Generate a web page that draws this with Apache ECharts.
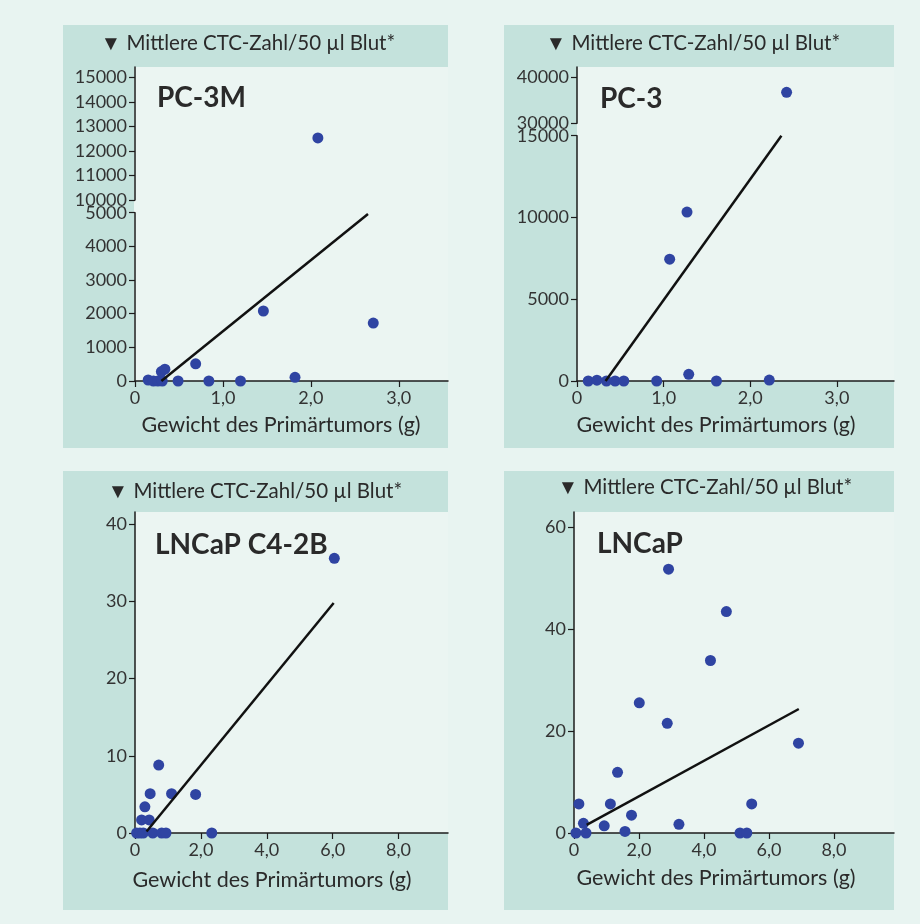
<!DOCTYPE html>
<html>
<head>
<meta charset="utf-8">
<script src="https://cdn.jsdelivr.net/npm/echarts@6.0.0/dist/echarts.min.js"></script>
<style>
  html, body { margin: 0; padding: 0; background: #e8f4f1; }
  #main { width: 920px; height: 924px; }
</style>
</head>
<body>
<div id="main"></div>
<script>
// Daten
var yHeader = '\u25BC Mittlere CTC-Zahl/50 \u00B5l Blut*';
var xName = 'Gewicht des Prim\u00E4rtumors (g)';

// PC-3M
var pc3mWeight = [0.15, 0.21, 0.26, 0.31, 0.30, 0.34, 0.49, 0.69, 0.84, 1.20, 1.46, 1.82, 2.08, 2.71];
var pc3mCtc    = [30, 0, 0, 0, 280, 350, 0, 510, 0, 0, 2080, 110, 12530, 1720];
var pc3mTrendX = [0.30, 2.65];
var pc3mTrendY = [0, 4960];
var pc3mLowTicks  = [0, 1000, 2000, 3000, 4000, 5000];
var pc3mHighTicks = [10000, 11000, 12000, 13000, 14000, 15000];

// PC-3
var pc3Weight = [0.13, 0.23, 0.34, 0.44, 0.54, 0.92, 1.07, 1.27, 1.29, 1.61, 2.22, 2.42];
var pc3Ctc    = [0, 50, 0, 0, 0, 0, 7450, 10330, 410, 0, 60, 36740];
var pc3TrendX = [0.33, 2.36];
var pc3TrendY = [0, 15000];
var pc3LowTicks  = [0, 5000, 10000, 15000];
var pc3HighTicks = [30000, 40000];

// LNCaP C4-2B
var c42bWeight = [0.05, 0.15, 0.25, 0.20, 0.30, 0.46, 0.43, 0.54, 0.72, 0.81, 0.94, 1.11, 1.84, 2.33, 6.05];
var c42bCtc    = [0, 0, 0, 1.7, 3.4, 5.1, 1.7, 0, 8.8, 0, 0, 5.1, 5.0, 0, 35.6];
var c42bTrendX = [0.35, 6.03];
var c42bTrendY = [0.2, 29.8];
var c42bTicks  = [0, 10, 20, 30, 40];

// LNCaP
var lncapWeight = [0.06, 0.15, 0.29, 0.37, 0.93, 1.12, 1.34, 1.57, 1.77, 2.01, 2.87, 2.91, 3.23, 4.20, 4.69, 5.11, 5.32, 5.47, 6.91];
var lncapCtc    = [0, 5.7, 1.9, 0, 1.4, 5.7, 11.9, 0.3, 3.5, 25.5, 21.5, 51.7, 1.7, 33.8, 43.4, 0, 0, 5.7, 17.6];
var lncapTrendX = [0.39, 6.92];
var lncapTrendY = [1.6, 24.3];
var lncapTicks  = [0, 20, 40, 60];

var smallXTicks = [0, 1, 2, 3];
var largeXTicks = [0, 2, 4, 6, 8];

var font = 'Lato';
var dotColor = '#2f44a2';
var axisColor = '#1c1c1c';
var panelColor = '#c4e2dc';
var plotColor = '#ebf5f2';

function pairs(xs, ys, test) {
    var out = [];
    for (var i = 0; i < xs.length; i++) {
        if (!test || test(ys[i])) out.push([xs[i], ys[i]]);
    }
    return out;
}

function commaFmt(v) {
    return v === 0 ? '0' : v.toFixed(1).replace('.', ',');
}

var grids = [
    { left: 135, top: 212.7, width: 313, height: 168.3 },  // PC-3M unten
    { left: 135, top: 67, width: 313, height: 133 },       // PC-3M oben
    { left: 577, top: 135.7, width: 317, height: 245.3 },  // PC-3 unten
    { left: 577, top: 67, width: 317, height: 56.3 },      // PC-3 oben
    { left: 135, top: 512, width: 313, height: 321 },      // LNCaP C4-2B
    { left: 574, top: 512, width: 320, height: 321 }       // LNCaP
].map(function (g) {
    g.outerBoundsMode = 'none';
    g.containLabel = false;
    return g;
});

function xAxis(gi, max, ticks, show) {
    return {
        type: 'value', gridIndex: gi, min: 0, max: max, show: show,
        axisLine: { show: true, onZero: false, lineStyle: { color: axisColor, width: 1.5 } },
        axisTick: { show: true, length: 6, customValues: ticks, lineStyle: { color: axisColor, width: 1.2 } },
        axisLabel: {
            fontFamily: font, fontSize: 18, color: '#333', margin: 8,
            customValues: ticks, formatter: commaFmt
        },
        splitLine: { show: false }
    };
}

function yAxis(gi, min, max, ticks) {
    return {
        type: 'value', gridIndex: gi, min: min, max: max,
        axisLine: { show: true, onZero: false, lineStyle: { color: axisColor, width: 1.5 } },
        axisTick: { show: true, length: 6, customValues: ticks, lineStyle: { color: axisColor, width: 1.2 } },
        axisLabel: {
            fontFamily: font, fontSize: 18, color: '#333', margin: 8,
            customValues: ticks, formatter: function (v) { return String(v); }
        },
        splitLine: { show: false }
    };
}

function dots(gi, data) {
    return {
        type: 'scatter', xAxisIndex: gi, yAxisIndex: gi, data: data,
        symbolSize: 11, clip: false, itemStyle: { color: dotColor, opacity: 1 }
    };
}

function trend(gi, xs, ys) {
    return {
        type: 'line', xAxisIndex: gi, yAxisIndex: gi, data: pairs(xs, ys),
        showSymbol: false, symbol: 'none', lineStyle: { color: '#111', width: 2.5 }
    };
}

function txt(x, y, text, size) {
    return {
        type: 'text', x: x, y: y, z: 10,
        style: {
            text: text, fontFamily: font, fontSize: size,
            fill: '#2a2a2a', textAlign: 'center', textVerticalAlign: 'middle'
        }
    };
}

function titleTxt(x, y, text) {
    return {
        type: 'text', x: x, y: y, z: 10,
        style: {
            text: text, fontFamily: font, fontSize: 28, fontWeight: 'bold',
            fill: '#2a2a2a', textAlign: 'left', textVerticalAlign: 'middle'
        }
    };
}

function rect(x1, y1, x2, y2, color) {
    return { type: 'rect', z: -10, silent: true, shape: { x: x1, y: y1, width: x2 - x1, height: y2 - y1 }, style: { fill: color } };
}

var myChart = echarts.init(document.getElementById('main'), null, { renderer: 'canvas' });

var option = {
    backgroundColor: '#e8f4f1',
    animation: false,
    graphic: [
        rect(63, 25, 448, 448, panelColor),
        rect(504, 25, 894, 448, panelColor),
        rect(63, 471, 448, 910, panelColor),
        rect(504, 471, 894, 910, panelColor),
        rect(134, 67, 448, 381, plotColor),
        rect(577, 67, 894, 381, plotColor),
        rect(135, 512, 448, 833, plotColor),
        rect(574, 512, 894, 833, plotColor),
        txt(248, 43, yHeader, 20.5),
        txt(693, 43, yHeader, 20.5),
        txt(255, 491, yHeader, 20.5),
        txt(705, 487, yHeader, 20.5),
        titleTxt(157, 98, 'PC-3M'),
        titleTxt(600, 99, 'PC-3'),
        titleTxt(155, 545, 'LNCaP C4-2B'),
        titleTxt(597, 544, 'LNCaP'),
        txt(281, 425, xName, 21.5),
        txt(716, 425, xName, 21.5),
        txt(272, 880, xName, 21.5),
        txt(716, 878, xName, 21.5)
    ],
    grid: grids,
    xAxis: [
        xAxis(0, 3.56, smallXTicks, true),
        xAxis(1, 3.56, smallXTicks, false),
        xAxis(2, 3.66, smallXTicks, true),
        xAxis(3, 3.66, smallXTicks, false),
        xAxis(4, 9.5, largeXTicks, true),
        xAxis(5, 9.85, largeXTicks, true)
    ],
    yAxis: [
        yAxis(0, 0, 5000, pc3mLowTicks),
        yAxis(1, 10000, 15418, pc3mHighTicks),
        yAxis(2, 0, 15000, pc3LowTicks),
        yAxis(3, 30000, 42240, pc3HighTicks),
        yAxis(4, 0, 41.6, c42bTicks),
        yAxis(5, 0, 62.9, lncapTicks)
    ],
    series: [
        dots(0, pairs(pc3mWeight, pc3mCtc, function (v) { return v <= 5000; })),
        dots(1, pairs(pc3mWeight, pc3mCtc, function (v) { return v >= 10000; })),
        trend(0, pc3mTrendX, pc3mTrendY),
        dots(2, pairs(pc3Weight, pc3Ctc, function (v) { return v <= 15000; })),
        dots(3, pairs(pc3Weight, pc3Ctc, function (v) { return v >= 30000; })),
        trend(2, pc3TrendX, pc3TrendY),
        dots(4, pairs(c42bWeight, c42bCtc)),
        trend(4, c42bTrendX, c42bTrendY),
        dots(5, pairs(lncapWeight, lncapCtc)),
        trend(5, lncapTrendX, lncapTrendY)
    ]
};

myChart.setOption(option);
</script>
</body>
</html>
